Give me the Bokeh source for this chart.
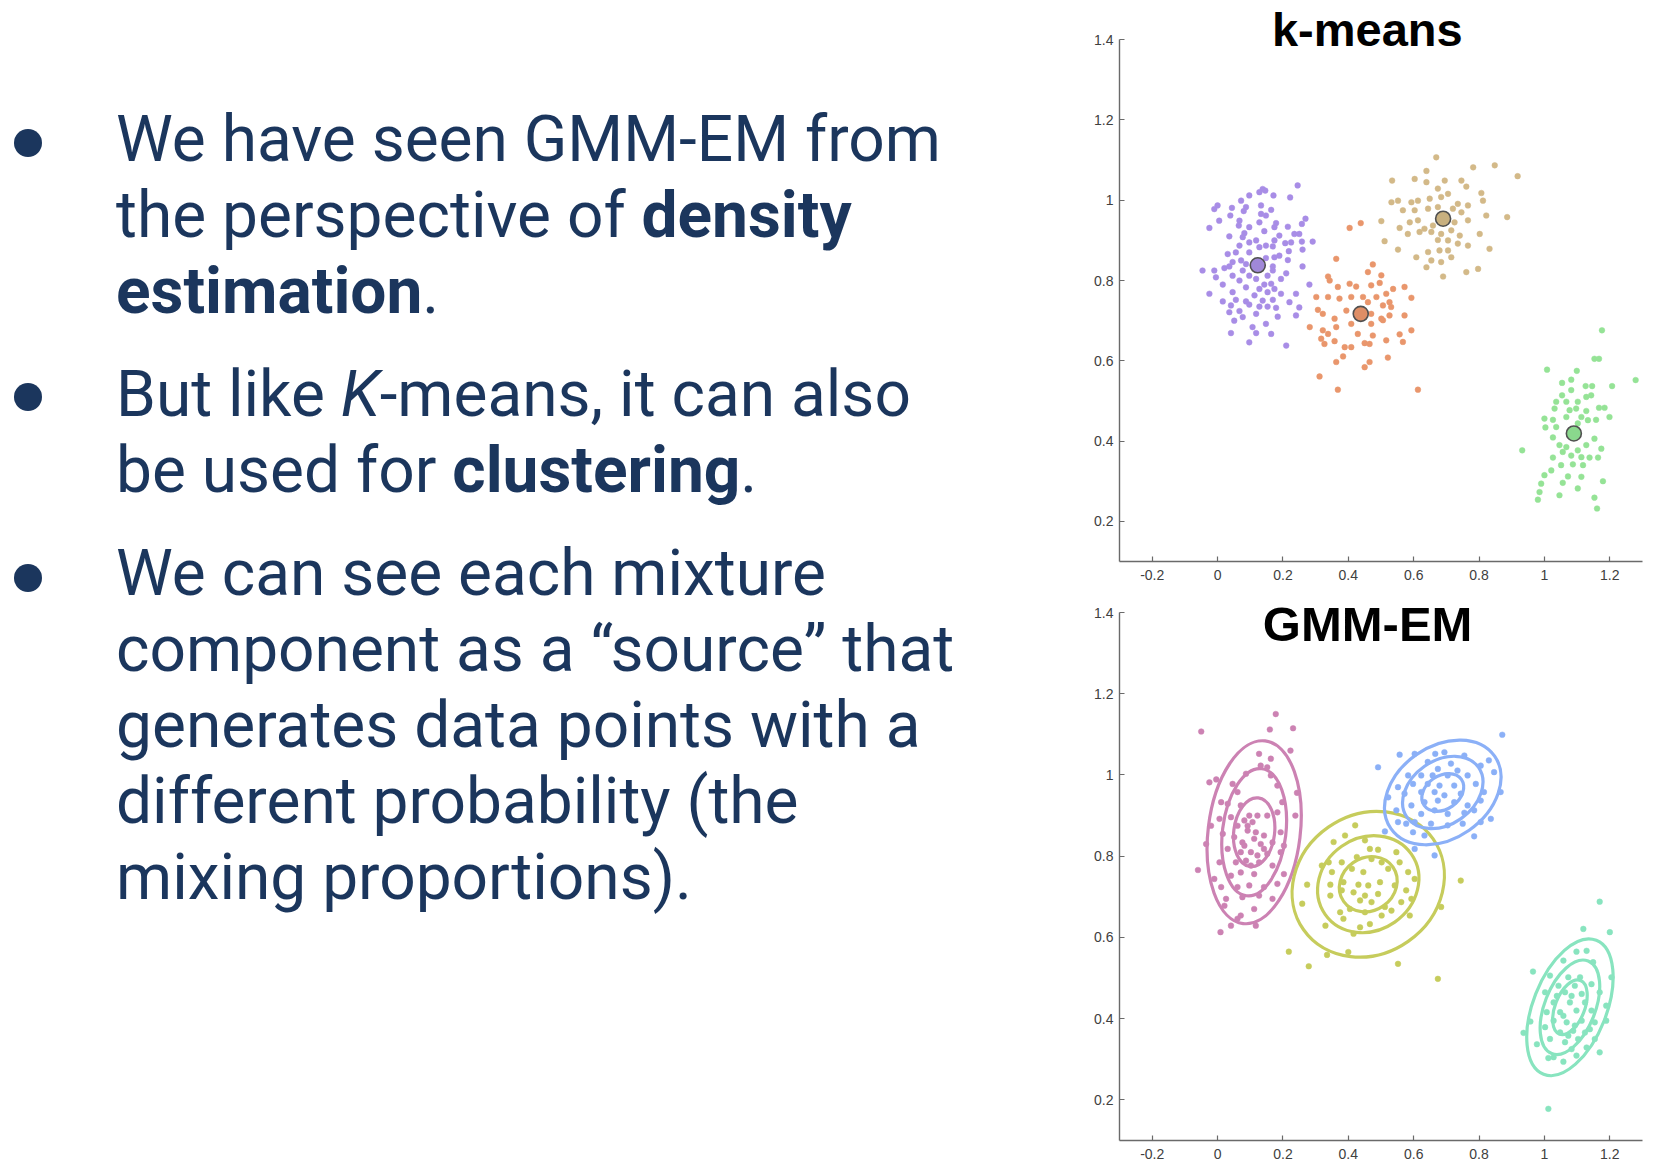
from bokeh.plotting import figure
from bokeh.models import Div, Label, FixedTicker, Range1d, ColumnDataSource
from bokeh.layouts import row, column
from bokeh.embed import file_html
from bokeh.resources import INLINE

# ---------------- data ----------------
x_ticks = [-0.2, 0, 0.2, 0.4, 0.6, 0.8, 1, 1.2]
x_tick_labels = ["-0.2", "0", "0.2", "0.4", "0.6", "0.8", "1", "1.2"]
y_ticks = [0.2, 0.4, 0.6, 0.8, 1, 1.2, 1.4]
y_tick_labels = ["0.2", "0.4", "0.6", "0.8", "1", "1.2", "1.4"]

km_purple = [(0.245,1.037),(0.138,1.028),(0.128,1.020),(0.146,1.024),(0.097,1.012),(0.171,1.012),(0.222,1.007),(0.072,0.999),(0.000,0.987),(-0.010,0.978),(0.087,0.983),(0.044,0.981),(0.133,0.987),(0.164,0.976),(0.080,0.973),(0.133,0.966),(0.039,0.962),(0.148,0.962),(0.269,0.954),(0.005,0.949),(0.067,0.949),(0.128,0.945),(0.179,0.943),(-0.025,0.931),(0.065,0.937),(0.097,0.933),(0.174,0.933),(0.215,0.934),(0.258,0.941),(0.082,0.918),(0.143,0.923),(0.189,0.912),(0.235,0.916),(0.036,0.910),(0.077,0.908),(0.250,0.916),(0.118,0.900),(0.097,0.895),(0.174,0.900),(0.207,0.893),(0.225,0.895),(0.258,0.897),(0.291,0.897),(0.067,0.887),(0.148,0.887),(0.128,0.883),(0.169,0.885),(0.218,0.873),(0.260,0.877),(0.056,0.870),(0.031,0.866),(0.097,0.870),(0.189,0.862),(0.174,0.858),(0.148,0.856),(0.215,0.851),(0.072,0.850),(0.046,0.846),(0.087,0.841),(0.169,0.835),(0.021,0.831),(0.036,0.835),(0.260,0.835),(-0.046,0.825),(-0.010,0.825),(0.077,0.825),(0.169,0.825),(0.210,0.818),(0.046,0.812),(0.097,0.812),(0.153,0.812),(0.194,0.804),(-0.005,0.808),(0.118,0.804),(0.067,0.800),(0.016,0.790),(0.143,0.790),(0.164,0.792),(0.281,0.790),(0.087,0.783),(0.128,0.779),(0.174,0.779),(0.046,0.771),(0.153,0.771),(0.194,0.767),(-0.025,0.767),(0.240,0.767),(0.113,0.763),(0.016,0.748),(0.056,0.752),(0.087,0.748),(0.138,0.750),(0.169,0.752),(0.220,0.746),(0.041,0.738),(0.097,0.740),(0.128,0.735),(0.153,0.735),(0.179,0.732),(0.250,0.733),(0.067,0.724),(0.036,0.721),(0.118,0.717),(0.077,0.709),(0.184,0.710),(0.240,0.713),(0.051,0.700),(0.148,0.692),(0.107,0.684),(0.041,0.669),(0.118,0.669),(0.164,0.667),(0.097,0.646),(0.210,0.638)]

km_orange = [(0.438,0.943),(0.404,0.931),(0.363,0.854),(0.475,0.840),(0.338,0.810),(0.343,0.800),(0.460,0.821),(0.501,0.813),(0.404,0.792),(0.424,0.785),(0.368,0.784),(0.470,0.788),(0.496,0.794),(0.537,0.779),(0.572,0.784),(0.302,0.759),(0.338,0.759),(0.373,0.755),(0.409,0.759),(0.445,0.759),(0.486,0.759),(0.516,0.767),(0.526,0.746),(0.593,0.757),(0.460,0.746),(0.506,0.738),(0.531,0.734),(0.307,0.727),(0.322,0.717),(0.394,0.725),(0.358,0.705),(0.470,0.717),(0.501,0.705),(0.526,0.713),(0.572,0.713),(0.282,0.684),(0.363,0.684),(0.409,0.692),(0.470,0.692),(0.506,0.701),(0.322,0.676),(0.338,0.667),(0.429,0.667),(0.475,0.663),(0.557,0.666),(0.593,0.676),(0.317,0.655),(0.358,0.649),(0.389,0.634),(0.409,0.634),(0.450,0.644),(0.465,0.642),(0.516,0.651),(0.567,0.647),(0.327,0.642),(0.384,0.611),(0.363,0.597),(0.465,0.597),(0.521,0.608),(0.450,0.584),(0.312,0.561),(0.368,0.528),(0.613,0.528)]

km_tan = [(0.669,1.107),(0.782,1.082),(0.848,1.087),(0.534,1.049),(0.603,1.053),(0.639,1.073),(0.639,1.045),(0.695,1.049),(0.746,1.049),(0.761,1.034),(0.674,1.029),(0.532,0.995),(0.552,0.999),(0.593,0.995),(0.613,0.999),(0.649,1.004),(0.684,1.008),(0.705,1.016),(0.735,0.991),(0.766,0.987),(0.807,1.018),(0.812,0.999),(0.567,0.975),(0.603,0.975),(0.644,0.979),(0.674,0.983),(0.720,0.979),(0.746,0.970),(0.822,0.962),(0.501,0.948),(0.557,0.931),(0.588,0.945),(0.613,0.950),(0.633,0.929),(0.659,0.937),(0.725,0.945),(0.766,0.950),(0.582,0.916),(0.618,0.921),(0.654,0.921),(0.684,0.916),(0.715,0.925),(0.741,0.912),(0.802,0.916),(0.511,0.898),(0.674,0.901),(0.705,0.900),(0.735,0.892),(0.766,0.887),(0.552,0.877),(0.644,0.871),(0.679,0.875),(0.705,0.875),(0.832,0.879),(0.608,0.858),(0.654,0.850),(0.684,0.846),(0.715,0.858),(0.639,0.833),(0.761,0.821),(0.797,0.829),(0.690,0.810),(0.918,1.060),(0.886,0.958)]

km_green = [(1.176,0.676),(1.153,0.605),(1.167,0.605),(1.008,0.578),(1.099,0.575),(1.279,0.552),(1.054,0.545),(1.082,0.553),(1.207,0.537),(1.082,0.527),(1.126,0.537),(1.146,0.537),(1.054,0.514),(1.128,0.510),(1.143,0.514),(1.036,0.498),(1.067,0.498),(1.102,0.498),(1.167,0.483),(1.184,0.483),(1.031,0.481),(1.077,0.477),(1.097,0.481),(1.128,0.475),(1.000,0.456),(1.026,0.453),(1.067,0.460),(1.113,0.460),(1.199,0.460),(1.133,0.452),(1.158,0.453),(1.003,0.434),(1.036,0.435),(1.102,0.444),(1.026,0.409),(1.153,0.406),(0.932,0.377),(1.046,0.390),(1.067,0.385),(1.128,0.390),(1.056,0.373),(1.102,0.377),(1.174,0.381),(1.026,0.359),(1.082,0.364),(1.113,0.360),(1.138,0.359),(1.164,0.359),(1.051,0.340),(1.087,0.342),(1.118,0.340),(1.021,0.327),(1.000,0.315),(1.072,0.312),(1.056,0.296),(1.113,0.311),(1.179,0.300),(0.990,0.294),(1.102,0.282),(0.985,0.273),(1.046,0.265),(1.153,0.259),(0.980,0.254),(1.161,0.232)]

km_centroids_x = [0.123, 0.438, 0.690, 1.090]
km_centroids_y = [0.838, 0.717, 0.954, 0.419]

gmm_pink = [(0.178,1.150),(-0.050,1.107),(0.160,1.112),(0.231,1.115),(0.223,1.060),(-0.025,0.982),(-0.004,0.989),(-0.060,0.766),(0.009,0.613),(0.127,1.052),(0.163,1.040),(0.132,1.023),(0.152,1.019),(0.087,1.003),(0.163,0.999),(0.046,0.978),(0.183,0.974),(0.061,0.958),(0.243,0.956),(0.011,0.933),(0.031,0.929),(0.198,0.933),(0.071,0.925),(0.238,0.900),(0.006,0.892),(0.041,0.896),(0.152,0.900),(0.183,0.908),(0.082,0.888),(0.107,0.884),(0.122,0.900),(0.092,0.863),(0.117,0.859),(0.142,0.851),(0.193,0.859),(-0.020,0.875),(0.016,0.855),(0.051,0.847),(0.168,0.834),(0.203,0.826),(-0.035,0.830),(0.076,0.834),(0.132,0.830),(0.031,0.818),(0.102,0.810),(0.152,0.806),(0.193,0.810),(0.006,0.785),(0.056,0.785),(0.087,0.789),(0.127,0.785),(0.168,0.777),(-0.010,0.744),(0.041,0.752),(0.071,0.760),(0.112,0.756),(0.203,0.756),(0.011,0.724),(0.061,0.724),(0.097,0.728),(0.142,0.724),(0.183,0.732),(0.026,0.695),(0.076,0.699),(0.127,0.703),(0.168,0.695),(0.021,0.678),(0.071,0.654),(0.112,0.670),(0.061,0.646),(0.117,0.629),(0.041,0.629),(0.097,0.900),(0.092,0.875),(0.112,0.843),(0.082,0.826),(0.122,0.802),(0.071,0.810),(0.142,0.818),(0.102,0.777),(0.061,0.875)]

gmm_yellow = [(0.421,0.876),(0.390,0.851),(0.355,0.835),(0.451,0.839),(0.466,0.818),(0.491,0.816),(0.547,0.810),(0.340,0.785),(0.380,0.785),(0.426,0.798),(0.471,0.793),(0.502,0.785),(0.557,0.785),(0.319,0.777),(0.350,0.761),(0.411,0.769),(0.446,0.761),(0.522,0.769),(0.583,0.761),(0.603,0.744),(0.274,0.730),(0.345,0.730),(0.385,0.736),(0.431,0.730),(0.461,0.728),(0.497,0.736),(0.542,0.728),(0.380,0.716),(0.416,0.711),(0.451,0.703),(0.491,0.707),(0.577,0.716),(0.593,0.695),(0.259,0.683),(0.345,0.703),(0.436,0.691),(0.471,0.687),(0.512,0.675),(0.532,0.666),(0.562,0.687),(0.375,0.662),(0.405,0.670),(0.451,0.662),(0.502,0.654),(0.588,0.654),(0.684,0.675),(0.744,0.740),(0.330,0.629),(0.385,0.646),(0.436,0.625),(0.466,0.633),(0.416,0.609),(0.218,0.565),(0.335,0.557),(0.400,0.564),(0.279,0.529),(0.552,0.535),(0.674,0.498)]

gmm_blue = [(0.871,1.099),(0.491,1.019),(0.557,1.050),(0.603,1.052),(0.666,1.052),(0.694,1.056),(0.755,1.048),(0.830,1.036),(0.643,1.032),(0.714,1.028),(0.674,1.015),(0.734,1.011),(0.805,1.023),(0.846,1.007),(0.583,0.999),(0.623,0.999),(0.658,0.999),(0.704,0.999),(0.765,0.999),(0.552,0.970),(0.598,0.978),(0.643,0.978),(0.679,0.974),(0.724,0.974),(0.790,0.978),(0.815,0.958),(0.866,0.958),(0.522,0.945),(0.572,0.954),(0.623,0.958),(0.664,0.958),(0.694,0.950),(0.744,0.954),(0.593,0.925),(0.633,0.933),(0.674,0.937),(0.724,0.933),(0.765,0.925),(0.805,0.937),(0.547,0.913),(0.623,0.904),(0.664,0.913),(0.704,0.904),(0.755,0.907),(0.785,0.913),(0.836,0.892),(0.603,0.884),(0.653,0.880),(0.704,0.876),(0.750,0.880),(0.805,0.884),(0.785,0.849),(0.552,0.884),(0.577,0.880),(0.598,0.859),(0.633,0.851),(0.664,0.802),(0.512,0.861),(0.603,0.818)]

gmm_teal = [(1.169,0.688),(1.119,0.621),(1.200,0.613),(0.965,0.516),(1.098,0.565),(1.129,0.567),(1.058,0.543),(1.149,0.539),(1.017,0.506),(1.073,0.502),(1.109,0.502),(1.205,0.502),(1.043,0.481),(1.093,0.481),(1.144,0.485),(1.002,0.465),(1.063,0.465),(1.114,0.461),(1.169,0.465),(1.028,0.440),(1.078,0.440),(1.124,0.440),(1.189,0.432),(1.007,0.416),(1.048,0.416),(1.098,0.420),(1.144,0.420),(0.957,0.393),(1.028,0.395),(1.068,0.391),(1.114,0.395),(1.154,0.391),(0.936,0.365),(1.002,0.379),(1.048,0.366),(1.088,0.370),(1.139,0.374),(1.189,0.395),(1.017,0.350),(1.063,0.342),(1.103,0.350),(1.154,0.350),(0.977,0.337),(1.083,0.325),(1.129,0.329),(1.012,0.303),(1.028,0.305),(1.058,0.294),(1.098,0.309),(1.169,0.317),(1.012,0.178),(1.038,0.456),(1.083,0.456),(1.058,0.407),(1.093,0.383),(1.073,0.358),(1.124,0.366)]

# fitted Gaussian contours: centre, rotation (rad) and three contour sizes (outer, middle, inner)
gmm_center_x = [0.112, 0.461, 0.689, 1.078]
gmm_center_y = [0.859, 0.731, 0.957, 0.428]
gmm_angle = [-0.12, 0.61, 0.61, -0.375]
gmm_width = [[0.282, 0.194, 0.125], [0.484, 0.322, 0.184], [0.387, 0.267, 0.139], [0.225, 0.155, 0.090]]
gmm_height = [[0.453, 0.315, 0.170], [0.343, 0.228, 0.130], [0.227, 0.157, 0.082], [0.355, 0.245, 0.142]]

km_colors = ["#a88de6", "#e9966c", "#d3b988", "#95e396"]
km_centroid_colors = ["#a088d8", "#de8e66", "#c8b07f", "#8ad88d"]
gmm_colors = ["#cc82b3", "#c6cc5c", "#8bb0f7", "#88e4bf"]

TEXT_COLOR = "#1b365d"


def style_axes(p, y_bounds):
    p.outline_line_color = None
    p.grid.visible = False
    for ax, ticks, labels in ((p.xaxis, x_ticks, x_tick_labels), (p.yaxis, y_ticks, y_tick_labels)):
        ax.ticker = FixedTicker(ticks=ticks)
        ax.major_label_overrides = dict(zip(ticks, labels))
        ax.minor_tick_line_color = None
        ax.major_tick_in = 5
        ax.major_tick_out = 0
        ax.axis_line_color = "#6a6a6a"
        ax.axis_line_width = 1.4
        ax.major_tick_line_color = "#6a6a6a"
        ax.major_tick_line_width = 1.2
        ax.major_label_text_font = "Liberation Sans"
        ax.major_label_text_font_size = "14px"
        ax.major_label_text_color = "#404040"
    p.yaxis.bounds = y_bounds
    p.xaxis.major_label_standoff = 8
    p.yaxis.major_label_standoff = 6


def xs(pts):
    return [q[0] for q in pts]


def ys(pts):
    return [q[1] for q in pts]


# ---------------- k-means plot ----------------
# frames reach the top of each figure so that the titles (drawn inside them) are not clipped;
# the y axis lines themselves stop at 1.4
p1 = figure(width=600, height=590, x_range=Range1d(-0.3, 1.3), y_range=Range1d(0.1, 1.4976),
            output_backend="svg", toolbar_location=None,
            min_border_left=59, min_border_right=18, min_border_top=0, min_border_bottom=29)
style_axes(p1, (0.1, 1.4))
for pts, col in zip((km_purple, km_orange, km_tan, km_green), km_colors):
    p1.scatter(xs(pts), ys(pts), size=5.7, fill_color=col, line_color=col, line_width=0.5)
p1.scatter(km_centroids_x, km_centroids_y, size=15, fill_color=km_centroid_colors,
           line_color="#505050", line_width=1.6)
p1.add_layout(Label(x=0.458, y=1.4263, text="k-means", text_align="center", text_baseline="alphabetic",
                    text_font="Liberation Sans", text_font_size="47px", text_font_style="bold",
                    text_color="#000000"))

# ---------------- GMM-EM plot ----------------
p2 = figure(width=600, height=584, x_range=Range1d(-0.3, 1.3), y_range=Range1d(0.1, 1.4542),
            output_backend="svg", toolbar_location=None,
            min_border_left=57, min_border_right=16, min_border_top=0, min_border_bottom=34)
style_axes(p2, (0.1, 1.4))
ex, ey, ew, eh, ea, ec = [], [], [], [], [], []
for i in range(4):
    for j in range(3):
        ex.append(gmm_center_x[i]); ey.append(gmm_center_y[i])
        ew.append(gmm_width[i][j]); eh.append(gmm_height[i][j])
        ea.append(gmm_angle[i]); ec.append(gmm_colors[i])
esrc = ColumnDataSource(dict(x=ex, y=ey, w=ew, h=eh, a=ea, c=ec))
p2.ellipse(x="x", y="y", width="w", height="h", angle="a", source=esrc,
           fill_color=None, line_color="c", line_width=3.2)
for pts, col in zip((gmm_pink, gmm_yellow, gmm_blue, gmm_teal), gmm_colors):
    p2.scatter(xs(pts), ys(pts), size=5.7, fill_color=col, line_color=col, line_width=0.5)
p2.add_layout(Label(x=0.459, y=1.372, text="GMM-EM", text_align="center", text_baseline="alphabetic",
                    text_font="Liberation Sans", text_font_size="49px", text_font_style="bold",
                    text_color="#000000"))

# ---------------- text panel ----------------
def bullet(top):
    return (f'<div style="position:absolute;left:14px;top:{top}px;width:28px;height:28px;'
            f'border-radius:50%;background:{TEXT_COLOR};"></div>')


def para(top, html):
    return (f'<div style="position:absolute;left:116px;top:{top}px;white-space:nowrap;">{html}</div>')


html = (
    f'<div style="position:relative;width:1060px;height:1174px;font-family:Roboto;'
    f'color:{TEXT_COLOR};font-size:64px;line-height:76px;background:#ffffff;">'
    + bullet(129) + para(102, 'We have seen GMM-EM from<br>the perspective of <b>density</b><br><b>estimation</b>.')
    + bullet(383) + para(357, 'But like <i>K</i>-means, it can also<br>be used for <b>clustering</b>.')
    + bullet(564) + para(536, 'We can see each mixture<br>component as a \u201csource\u201d that<br>'
                             'generates data points with a<br>different probability (the<br>mixing proportions).')
    + '</div>'
)
text_panel = Div(text=html, width=1060, height=1174, margin=0)

layout = row(text_panel, column(p1, p2, spacing=0), spacing=0)

with open("out.html", "w") as f:
    f.write(file_html(layout, INLINE))
